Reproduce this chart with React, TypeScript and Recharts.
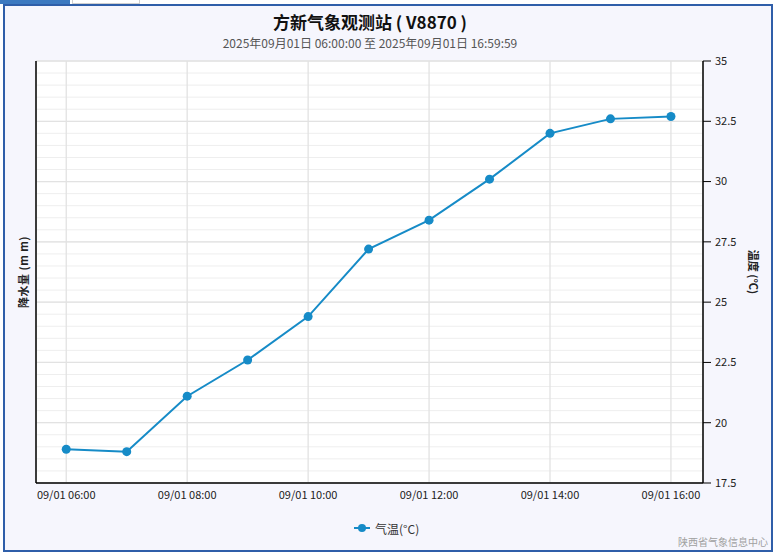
import { LineChart, Line, XAxis, YAxis, CartesianGrid } from "recharts";

const times = ["06:00", "07:00", "08:00", "09:00", "10:00", "11:00", "12:00", "13:00", "14:00", "15:00", "16:00"];
const temperature = [18.9, 18.8, 21.1, 22.6, 24.4, 27.2, 28.4, 30.1, 32.0, 32.6, 32.7];
const xTickLabels = ["06:00", "08:00", "10:00", "12:00", "14:00", "16:00"];
const tempTicks = [17.5, 20, 22.5, 25, 27.5, 30, 32.5, 35];
const tempDomain = [17.5, 35];

const datePrefix = "09/01";
const toHour = (t: string) => parseInt(t.split(":")[0], 10);

const data = times.map((t, i) => ({ hour: toHour(t), temp: temperature[i] }));
const xTicks = xTickLabels.map(toHour);
// light 0.5° lines between the labelled ticks
const minorTicks = Array.from({ length: 36 }, (_, i) => 17.5 + i * 0.5);

const FONT = '"Noto Sans CJK SC", "Noto Sans", sans-serif';
const LINE = "#168bc7";

// grid lines at minor ticks, placed by the temp axis scale
function minorLines(props: any): number[] {
  const s = props?.yAxis?.scale;
  const off = props?.offset;
  return minorTicks.map((v) => {
    if (typeof s === "function") return s(v);
    if (s && typeof s.map === "function") return s.map(v);
    const [lo, hi] = tempDomain;
    return off.top + off.height * (1 - (v - lo) / (hi - lo));
  });
}

export default function App() {
  return (
    <div
      style={{
        position: "absolute",
        left: 0,
        top: 0,
        width: 780,
        height: 559,
        background: "#ffffff",
        fontFamily: FONT,
        overflow: "hidden",
      }}
    >
      {/* tabs */}
      <div style={{ position: "absolute", left: 0, top: 0, width: 70, height: 4, background: "#3c79c0" }} />
      <div
        style={{
          position: "absolute",
          left: 72,
          top: 0,
          width: 66,
          height: 3,
          background: "#fff",
          border: "1px solid #cfcfcf",
          borderTop: "none",
        }}
      />
      {/* frame */}
      <div
        style={{
          position: "absolute",
          left: 3,
          top: 4,
          width: 766,
          height: 544,
          border: "2px solid #2f5ea9",
          background: "#f6f6fd",
        }}
      />

      <div style={{ position: "absolute", left: 0, top: 0, width: 780, height: 559 }}>
        <LineChart width={780} height={559} data={data} margin={{ top: 61, right: 15, bottom: 46, left: 8 }}>
          <CartesianGrid
            yAxisId="temp"
            vertical={false}
            stroke="#eeeeee"
            fill="#ffffff"
            fillOpacity={1}
            horizontalCoordinatesGenerator={minorLines}
          />
          <CartesianGrid yAxisId="temp" stroke="#e2e2e2" strokeWidth={1.3} />
          <XAxis
            dataKey="hour"
            type="number"
            domain={[5.5, 16.53]}
            ticks={xTicks}
            tickFormatter={(h: number) => `${datePrefix} ${String(h).padStart(2, "0")}:00`}
            axisLine={{ stroke: "#000", strokeWidth: 1.5 }}
            tickLine={false}
            tickSize={0}
            tickMargin={8}
            height={30}
            tick={{ fontSize: 11, fill: "#222", fontFamily: FONT }}
            allowDataOverflow
          />
          <YAxis
            yAxisId="rain"
            orientation="left"
            domain={[0, 10]}
            width={28}
            tick={false}
            tickLine={false}
            axisLine={{ stroke: "#000", strokeWidth: 1.5 }}
          />
          <YAxis
            yAxisId="temp"
            orientation="right"
            domain={tempDomain}
            ticks={tempTicks}
            width={62}
            axisLine={{ stroke: "#000", strokeWidth: 1.5 }}
            tickLine={{ stroke: "#000" }}
            tickSize={8}
            tickMargin={4}
            tick={{ fontSize: 11, fill: "#222", fontFamily: FONT }}
            allowDataOverflow
          />
          <Line
            yAxisId="temp"
            dataKey="temp"
            stroke={LINE}
            strokeWidth={2}
            dot={{ r: 4.5, fill: LINE, stroke: LINE, strokeWidth: 0 }}
            isAnimationActive={false}
          />
        </LineChart>
      </div>

      {/* titles */}
      <div
        style={{
          position: "absolute",
          left: 0,
          width: 740,
          top: 9,
          textAlign: "center",
          fontSize: 17,
          fontWeight: "bold",
          color: "#111",
        }}
      >
        方新气象观测站 ( V8870 )
      </div>
      <div
        style={{
          position: "absolute",
          left: 0,
          width: 740,
          top: 34,
          textAlign: "center",
          fontSize: 12,
          color: "#555",
        }}
      >
        2025年09月01日 06:00:00 至 2025年09月01日 16:59:59
      </div>

      {/* axis titles */}
      <div
        style={{
          position: "absolute",
          left: 23,
          top: 272,
          transform: "translate(-50%, -50%) rotate(-90deg)",
          fontSize: 11,
          fontWeight: "bold",
          whiteSpace: "nowrap",
          color: "#222",
          letterSpacing: 0.5,
        }}
      >
        降水量 (m m)
      </div>
      <div
        style={{
          position: "absolute",
          left: 754,
          top: 272,
          transform: "translate(-50%, -50%) rotate(90deg)",
          fontSize: 11,
          fontWeight: "bold",
          whiteSpace: "nowrap",
          color: "#222",
        }}
      >
        温度 (°C)
      </div>

      {/* legend */}
      <div
        style={{
          position: "absolute",
          left: 354,
          top: 519,
          height: 18,
          display: "flex",
          alignItems: "center",
          fontSize: 12,
          color: "#333",
        }}
      >
        <svg width={16} height={10} style={{ marginRight: 5 }}>
          <line x1={0} y1={5} x2={16} y2={5} stroke={LINE} strokeWidth={2} />
          <circle cx={8} cy={5} r={4} fill={LINE} />
        </svg>
        气温(°C)
      </div>

      {/* credit */}
      <div
        style={{
          position: "absolute",
          right: 12,
          top: 536,
          fontSize: 10,
          lineHeight: "12px",
          color: "#a0a0a0",
        }}
      >
        陕西省气象信息中心
      </div>
    </div>
  );
}
